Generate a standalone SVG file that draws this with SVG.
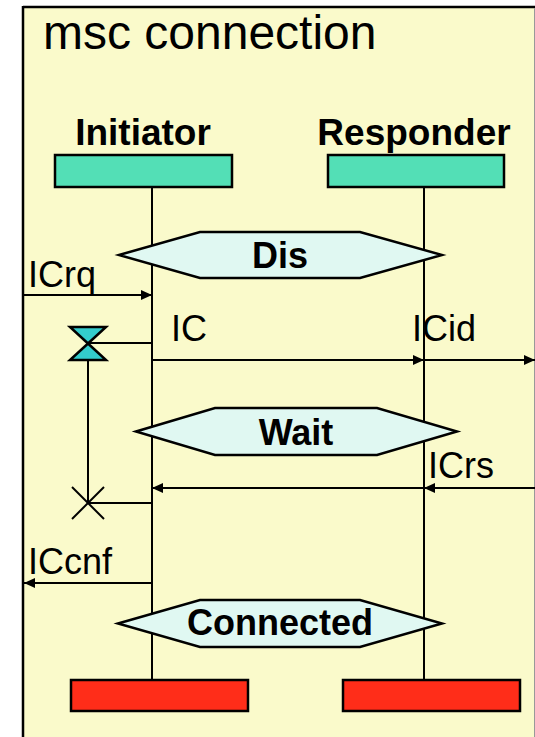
<svg xmlns="http://www.w3.org/2000/svg" width="535" height="737" viewBox="0 0 535 737">
<style>
.t{font-family:"Liberation Sans",Arial,sans-serif;fill:#000}
.n{font-size:36px}
.b{font-size:36px;font-weight:bold}
.hd{font-size:37px;font-weight:bold}
.ln{stroke:#000;stroke-width:2;fill:none}
.ar{stroke:#000;stroke-width:2;fill:none;marker-end:url(#ah)}
.hex{fill:#E0F8F2;stroke:#000;stroke-width:2.5;stroke-linejoin:miter}
.start{fill:#53DFB6;stroke:#000;stroke-width:2.5}
.stop{fill:#FF2D19;stroke:#000;stroke-width:2.5}
</style>
<defs>
<marker id="ah" markerWidth="11" markerHeight="10" refX="11" refY="5" orient="auto" markerUnits="userSpaceOnUse">
<path d="M0,0 L11,5 L0,10 z" fill="#000"/>
</marker>
</defs>
<rect x="0" y="0" width="535" height="737" fill="#fff"/>
<g id="frame">
<rect x="23" y="7" width="511" height="740" fill="#FAFACB"/>
<line x1="23" y1="7" x2="535" y2="7" stroke="#000" stroke-width="2.5"/>
<line x1="23" y1="6" x2="23" y2="737" stroke="#000" stroke-width="2.5"/>
<line x1="534.5" y1="8" x2="534.5" y2="737" stroke="#999" stroke-width="1"/>
<text class="t" x="43" y="49" font-size="48">msc connection</text>
</g>
<g id="lifelines">
<line class="ln" x1="152" y1="187" x2="152" y2="680"/>
<line class="ln" x1="424" y1="187" x2="424" y2="680"/>
</g>
<g id="initiator">
<text class="t hd" x="143" y="145" text-anchor="middle">Initiator</text>
<rect class="start" x="55" y="155" width="177" height="32"/>
</g>
<g id="responder">
<text class="t hd" x="414" y="145" text-anchor="middle">Responder</text>
<rect class="start" x="328" y="155" width="176" height="32"/>
</g>
<g id="state-dis">
<polygon class="hex" points="119,255 200,232 360,232 442,255 360,278 200,278"/>
<text class="t b" x="280" y="268" text-anchor="middle">Dis</text>
</g>
<g id="state-wait">
<polygon class="hex" points="136,431.5 215,408 377,408 457,431.5 377,455 215,455"/>
<text class="t b" x="296" y="445" text-anchor="middle">Wait</text>
</g>
<g id="state-connected">
<polygon class="hex" points="118,623.5 200,600 360,600 442,623.5 360,647 200,647"/>
<text class="t b" x="280" y="635" text-anchor="middle">Connected</text>
</g>
<g id="timer-set">
<polygon points="70,327 106,327 88,343.5" fill="#33CCCC" stroke="#000" stroke-width="2.5" stroke-linejoin="miter"/>
<polygon points="70,360 106,360 88,343.5" fill="#33CCCC" stroke="#000" stroke-width="2.5" stroke-linejoin="miter"/>
</g>
<g id="timer-timeout">
<line class="ln" x1="72" y1="487" x2="104" y2="519"/>
<line class="ln" x1="104" y1="487" x2="72" y2="519"/>
</g>
<g id="connectors">
<line class="ar" x1="23" y1="295" x2="152" y2="295"/>
<text class="t n" x="28" y="287">ICrq</text>
<line class="ln" x1="88" y1="343" x2="152" y2="343"/>
<line class="ar" x1="152" y1="360" x2="424" y2="360"/>
<line class="ar" x1="424" y1="360" x2="535" y2="360"/>
<text class="t n" x="171" y="341">IC</text>
<text class="t n" x="412" y="341">ICid</text>
<line class="ln" x1="88" y1="360" x2="88" y2="503"/>
<line class="ln" x1="88" y1="503" x2="152" y2="503"/>
<line class="ar" x1="535" y1="488" x2="424" y2="488"/>
<line class="ar" x1="424" y1="488" x2="152" y2="488"/>
<text class="t n" x="428" y="478">ICrs</text>
<line class="ar" x1="152" y1="583" x2="24" y2="583"/>
<text class="t n" x="28" y="574">ICcnf</text>
</g>
<g id="stops">
<rect class="stop" x="71" y="680" width="177" height="31"/>
<rect class="stop" x="343" y="680" width="177" height="31"/>
</g>
</svg>
